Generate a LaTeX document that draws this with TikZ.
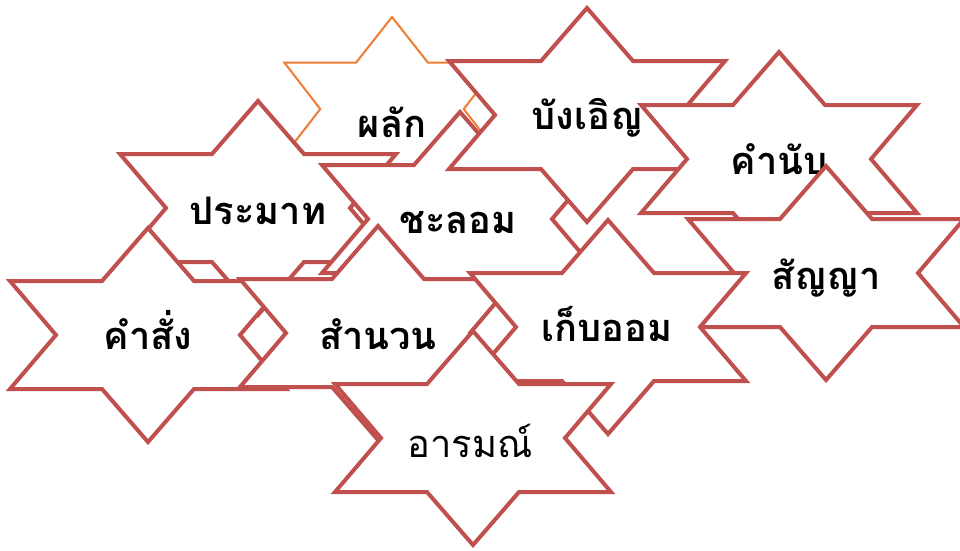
\documentclass[tikz,border=0pt]{standalone}
\usepackage{fontspec}
\newfontfamily\thai[Script=Thai]{Loma}
\definecolor{starred}{HTML}{C0504D}
\definecolor{starorange}{HTML}{ED7D31}
\tikzset{
  starshape/.style={fill=white, draw=starred, line width=4pt, miter limit=10},
  orangestar/.style={fill=white, draw=starorange, line width=2pt, miter limit=10},
  label/.style={font=\thai\bfseries\fontsize{38}{44}\selectfont, inner sep=0pt, anchor=base},
  labelreg/.style={font=\thai\fontsize{38}{44}\selectfont, inner sep=0pt, anchor=base}
}
% #1 name, #2 x, #3 y, #4 path style, #5 xscale, #6 yscale
\newcommand\hexstar[6]{%
  \begin{scope}[shift={(#2,#3)}, xscale=#5, yscale=#6]
    \path[#4] (0,-107) -- (46,-54) -- (138,-54) -- (92,0) -- (138,54) -- (46,54)
      -- (0,107) -- (-46,54) -- (-138,54) -- (-92,0) -- (-138,-54) -- (-46,-54) -- cycle;
    \coordinate (#1) at (0,0);
  \end{scope}}
\begin{document}
\begin{tikzpicture}[x=1pt,y=-1pt]
\useasboundingbox (0,0) rectangle (960,550);
\hexstar{s1}{392}{109}{orangestar}{0.78}{0.86}
\node[label] (t1) at (392,137) {ผลัก};
\hexstar{s2}{258}{208}{starshape}{1}{1}
\node[label] (t2) at (258,224) {ประมาท};
\hexstar{s3}{460}{219}{starshape}{1}{1}
\node[label] (t3) at (458,233) {ชะลอม};
\hexstar{s4}{587}{115}{starshape}{1}{1}
\node[label] (t4) at (587,129) {บังเอิญ};
\hexstar{s5}{779}{159}{starshape}{1}{1}
\node[label] (t5) at (779,174) {คำนับ};
\hexstar{s6}{826}{273}{starshape}{1}{1}
\node[label] (t6) at (826,289) {สัญญา};
\hexstar{s7}{148}{335}{starshape}{1}{1}
\node[label] (t7) at (148,349) {คำสั่ง};
\hexstar{s8}{378}{333}{starshape}{1}{1}
\node[label] (t8) at (378,349) {สำนวน};
\hexstar{s9}{608}{327}{starshape}{1}{1}
\node[label] (t9) at (607,341) {เก็บออม};
\hexstar{s10}{473}{438}{starshape}{1}{1}
\node[labelreg] (t10) at (470,457) {อารมณ์};
\end{tikzpicture}
\end{document}
